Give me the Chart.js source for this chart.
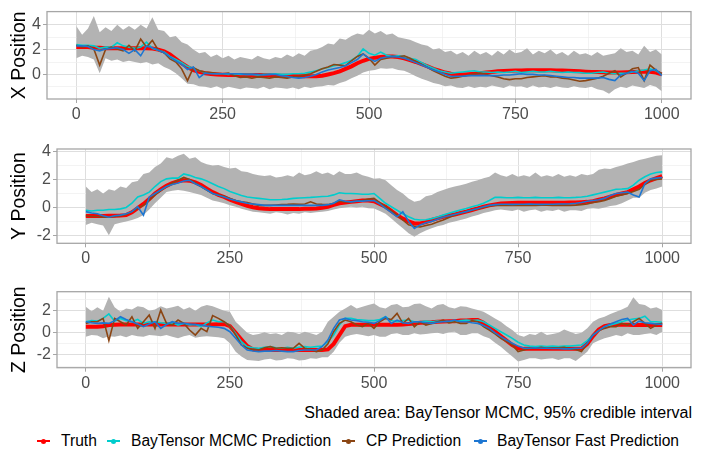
<!DOCTYPE html>
<html>
<head>
<meta charset="utf-8">
<script src="https://cdn.jsdelivr.net/npm/chart.js@4.4.1/dist/chart.umd.min.js"></script>
<style>
  body { margin: 0; background: #fff; width: 713px; height: 458px; position: relative; overflow: hidden;
         font-family: "Liberation Sans", Arial, sans-serif; }
  canvas { position: absolute; left: 0; }
  #caption { position: absolute; right: 21px; top: 404px; font-size: 16px; line-height: 18px; color: #000; }
  .key { position: absolute; top: 434px; width: 13px; height: 14px; }
  .key .ln { position: absolute; left: 0; top: 6px; width: 13px; height: 2px; }
  .key .dot { position: absolute; left: 4px; top: 4.5px; width: 5px; height: 5px; border-radius: 50%; }
  .lab { position: absolute; top: 432px; font-size: 15.6px; line-height: 18px; color: #000; white-space: nowrap; }
</style>
</head>
<body>
<canvas id="panelX" width="713" height="125" style="top:0px"></canvas>
<canvas id="panelY" width="713" height="145" style="top:125px"></canvas>
<canvas id="panelZ" width="713" height="125" style="top:270px"></canvas>

<div id="caption">Shaded area: BayTensor MCMC, 95% credible interval</div>
<div id="legend"></div>

<script>
// time index, one sample every 10 steps (0..1000)
const steps = Array.from({ length: 101 }, (_, i) => i * 10);
const xMajor = [0, 250, 500, 750, 1000];
const xMinor = [125, 375, 625, 875];

// ---- X position ----
const xTruth = [
  2.2, 2.2, 2.2, 2.15, 2.15, 2.1, 2.1, 2.1, 2.1, 2.1,
  2.1, 2.1, 2.1, 2.08, 2.0, 1.85, 1.6, 1.25, 0.9, 0.6,
  0.35, 0.2, 0.1, 0.03, 0.0, -0.03, -0.05, -0.05, -0.05, -0.05,
  -0.05, -0.05, -0.05, -0.07, -0.08, -0.1, -0.1, -0.12, -0.13, -0.15,
  -0.15, -0.15, -0.1, 0.0, 0.1, 0.25, 0.45, 0.65, 0.9, 1.1,
  1.25, 1.35, 1.4, 1.45, 1.45, 1.4, 1.3, 1.15, 1.0, 0.82,
  0.65, 0.45, 0.3, 0.15, 0.05, 0.0, 0.0, 0.02, 0.05, 0.1,
  0.15, 0.2, 0.25, 0.28, 0.3, 0.31, 0.32, 0.33, 0.33, 0.33,
  0.33, 0.33, 0.32, 0.31, 0.3, 0.28, 0.25, 0.22, 0.2, 0.19,
  0.18, 0.16, 0.15, 0.16, 0.18, 0.2, 0.22, 0.22, 0.22, 0.15,
  0.0
];
const xMcmc = [
  2.4, 2.35, 2.35, 2.3, 2.1, 2.2, 2.2, 2.55, 2.3, 2.2,
  2.1, 2.2, 2.6, 2.1, 1.95, 1.8, 1.45, 1.2, 0.95, 0.65,
  0.5, 0.3, 0.15, 0.1, 0.05, 0.05, 0.0, 0.05, 0.0, 0.0,
  0.0, -0.05, 0.0, 0.0, 0.05, 0.0, 0.0, 0.05, 0.05, 0.1,
  0.2, 0.3, 0.45, 0.55, 0.7, 0.8, 0.95, 1.15, 1.45, 2.05,
  1.7, 1.55, 1.8, 1.55, 1.45, 1.5, 1.45, 1.3, 1.2, 0.95,
  0.7, 0.5, 0.3, 0.2, 0.1, 0.15, 0.2, 0.25, 0.3, 0.2,
  0.2, 0.15, 0.2, 0.15, 0.2, 0.25, 0.15, 0.2, 0.25, 0.2,
  0.2, 0.25, 0.2, 0.15, 0.2, 0.15, 0.15, 0.1, 0.1, 0.15,
  0.2, 0.1, 0.05, 0.1, 0.1, 0.2, 0.3, 0.35, 0.45, 0.3,
  0.05
];
const xCp = [
  2.35, 2.2, 2.3, 2.05, 0.75, 2.0, 2.2, 2.05, 1.9, 2.35,
  1.9, 2.85, 2.2, 2.75, 1.95, 1.75, 1.25, 1.0, 0.45, -0.5,
  0.55, 0.3, 0.2, 0.15, 0.1, 0.05, 0.1, -0.1, -0.25, -0.2,
  -0.3, -0.2, -0.25, -0.3, -0.2, -0.25, -0.3, -0.2, -0.15, -0.05,
  0.05, 0.25, 0.45, 0.6, 0.8, 0.75, 0.7, 1.1, 1.45, 1.65,
  1.3, 0.75, 1.2, 1.3, 1.45, 1.4, 1.5, 1.3, 1.05, 0.8,
  0.57, 0.3, 0.07, -0.15, -0.3, -0.25, -0.15, -0.05, 0.05, 0.1,
  0.0, -0.1, -0.2, -0.35, -0.42, -0.35, -0.35, -0.25, -0.2, -0.15,
  -0.1, -0.2, -0.2, -0.3, -0.35, -0.45, -0.55, -0.5, -0.4, -0.3,
  -0.15, 0.1, 0.3, -0.2, 0.1, 0.45, 0.55, -0.5, 0.75, 0.35,
  0.05
];
const xFast = [
  2.3, 2.3, 2.25, 2.0, 1.9, 2.05, 2.1, 2.15, 2.0, 1.7,
  2.0, 1.5, 2.3, 2.15, 1.95, 1.75, 1.4, 1.1, 0.8, 0.4,
  0.6, -0.25, 0.1, 0.05, 0.05, 0.05, 0.05, 0.05, 0.05, 0.0,
  0.0, 0.0, -0.05, 0.0, 0.0, -0.1, -0.17, -0.25, -0.3, -0.25,
  -0.15, 0.0, 0.2, 0.35, 0.45, 0.55, 0.7, 0.95, 1.2, 1.65,
  1.3, 1.05, 1.3, 1.4, 1.45, 1.4, 1.3, 1.15, 0.95, 0.75,
  0.55, 0.35, 0.2, 0.0, -0.17, -0.15, -0.15, -0.1, -0.1, -0.08,
  -0.1, -0.1, -0.1, -0.05, -0.05, 0.0, 0.05, 0.0, 0.0, -0.05,
  -0.05, -0.1, -0.15, -0.2, -0.25, -0.25, -0.3, -0.3, -0.3, -0.3,
  -0.25, -0.4, -0.5, -0.05, 0.1, 0.25, 0.1, -0.5, 0.3, 0.4,
  -0.1
];
const xUpper = [
  3.9, 3.2, 3.7, 4.7, 3.4, 3.8, 3.5, 4.0, 3.6, 3.9,
  3.6, 4.0, 3.7, 4.6, 3.6, 3.5, 3.0, 3.1, 2.6, 2.4,
  2.0, 1.7, 1.8, 1.4, 1.6, 1.3, 1.5, 1.2, 1.4, 1.3,
  1.2, 1.5, 1.3, 1.2, 1.4, 1.3, 1.6, 1.4, 1.7, 1.5,
  1.9, 2.0, 2.2, 2.5, 2.4, 2.9, 2.8, 3.1, 3.3, 3.2,
  3.6, 3.3, 3.5, 3.2, 3.3, 3.0, 2.9, 2.8, 2.6, 2.4,
  2.3, 2.0, 2.1, 1.8, 1.9, 1.6, 1.8, 1.5, 1.9, 1.6,
  1.8, 1.5, 1.9, 1.6, 2.0, 1.7, 1.8, 2.1, 1.6, 1.9,
  1.7, 2.0, 1.6, 1.8, 1.5, 1.9, 1.6, 1.7, 1.5, 1.8,
  1.5, 1.6, 1.7, 2.1, 1.8, 1.9, 1.6, 2.3, 1.8, 2.0,
  1.6
];
const xLower = [
  1.3, 1.5, 1.4, 1.2, 0.1, 1.3, 1.1, 1.2, 1.0, 1.1,
  1.0, 0.9, 1.0, 0.8, 0.9, 0.6, 0.4, 0.1, -0.3, -0.75,
  -0.8, -0.95, -1.0, -1.1, -0.95, -1.15, -1.0, -1.1, -1.2, -1.05,
  -1.1, -1.15, -1.0, -1.2, -1.05, -1.1, -1.15, -1.05, -1.2, -1.0,
  -1.1, -1.0, -0.95, -0.85, -0.9, -0.7, -0.55, -0.3, -0.1, 0.15,
  0.3, 0.35, 0.5, 0.45, 0.5, 0.35, 0.3, 0.1, -0.15, -0.35,
  -0.5, -0.7, -0.8, -0.95, -0.9, -1.05, -1.1, -0.95, -1.1, -1.0,
  -1.05, -0.9, -1.0, -1.1, -0.9, -1.0, -0.95, -1.1, -0.9, -1.05,
  -1.0, -1.1, -0.95, -1.05, -1.1, -0.95, -1.05, -1.1, -1.0, -1.2,
  -1.3, -1.55, -1.2, -1.0, -1.1, -0.9, -1.0, -1.1, -0.85, -1.0,
  -1.35
];

// ---- Y position ----
const yTruth = [
  -0.62, -0.62, -0.62, -0.62, -0.6, -0.6, -0.58, -0.55, -0.35, -0.05,
  0.25, 0.6, 1.0, 1.3, 1.55, 1.75, 1.88, 1.95, 1.92, 1.8,
  1.6, 1.35, 1.1, 0.9, 0.75, 0.55, 0.4, 0.25, 0.12, 0.02,
  -0.05, -0.1, -0.12, -0.12, -0.12, -0.12, -0.12, -0.12, -0.1, -0.1,
  -0.08, -0.02, 0.05, 0.18, 0.3, 0.35, 0.4, 0.45, 0.5, 0.5,
  0.45, 0.25, 0.05, -0.25, -0.55, -0.8, -1.0, -1.15, -1.15, -1.05,
  -0.9, -0.78, -0.67, -0.58, -0.5, -0.4, -0.3, -0.18, -0.07, 0.05,
  0.15, 0.22, 0.28, 0.3, 0.32, 0.33, 0.33, 0.33, 0.33, 0.33,
  0.33, 0.33, 0.33, 0.34, 0.35, 0.36, 0.38, 0.4, 0.45, 0.55,
  0.65, 0.78, 0.9, 1.0, 1.1, 1.3, 1.5, 1.75, 1.95, 2.1,
  2.25
];
const yMcmc = [
  -0.2, -0.25, -0.2, -0.2, -0.15, -0.15, -0.1, 0.0, 0.3, 0.75,
  0.9, 1.1, 1.5, 1.85, 2.05, 2.1, 2.1, 2.4, 2.3, 2.15,
  2.05, 1.9, 1.7, 1.5, 1.35, 1.15, 1.0, 0.85, 0.75, 0.7,
  0.65, 0.6, 0.55, 0.55, 0.57, 0.6, 0.65, 0.68, 0.7, 0.72,
  0.75, 0.78, 0.8, 0.9, 1.05, 1.0, 1.0, 0.98, 0.95, 0.95,
  1.0, 0.65, 0.3, 0.05, -0.2, -0.45, -0.67, -0.85, -0.9, -0.88,
  -0.8, -0.68, -0.55, -0.42, -0.3, -0.18, -0.07, 0.05, 0.15, 0.3,
  0.5, 0.72, 0.72, 0.7, 0.7, 0.72, 0.7, 0.7, 0.72, 0.7,
  0.7, 0.7, 0.72, 0.7, 0.7, 0.72, 0.75, 0.8, 0.9, 1.0,
  1.1, 1.2, 1.3, 1.32, 1.35, 1.6, 1.95, 2.2, 2.4, 2.5,
  2.55
];
const yCp = [
  -0.6, -0.65, -0.65, -0.7, -0.7, -0.65, -0.6, -0.5, -0.3, -0.05,
  0.15, 0.5, 0.9, 1.2, 1.5, 1.75, 1.95, 2.15, 2.0, 1.75,
  1.5, 1.25, 1.0, 0.9, 0.8, 0.65, 0.5, 0.4, 0.35, 0.25,
  0.15, 0.15, 0.15, 0.18, 0.2, 0.22, 0.25, 0.22, 0.25, 0.4,
  0.25, 0.22, 0.2, 0.3, 0.45, 0.4, 0.4, 0.45, 0.5, 0.6,
  0.65, 0.35, 0.05, -0.25, -0.55, -0.9, -1.25, -1.35, -1.4, -1.3,
  -1.2, -1.05, -0.9, -0.72, -0.55, -0.42, -0.3, -0.2, -0.1, 0.0,
  0.1, 0.15, 0.15, 0.15, 0.15, 0.15, 0.15, 0.15, 0.15, 0.17,
  0.17, 0.15, 0.15, 0.17, 0.15, 0.17, 0.2, 0.25, 0.35, 0.42,
  0.5, 0.65, 0.8, 0.9, 1.0, 1.15, 1.3, 1.65, 1.95, 2.0,
  2.05
];
const yFast = [
  -0.3, -0.4, -0.45, -0.6, -0.7, -0.6, -0.55, -0.45, -0.3, 0.05,
  -0.55, 0.75, 1.0, 1.25, 1.5, 1.65, 1.75, 1.9, 1.95, 1.7,
  1.5, 1.25, 1.0, 0.88, 0.75, 0.6, 0.5, 0.4, 0.3, 0.25,
  0.2, 0.15, 0.15, 0.15, 0.15, 0.15, 0.15, 0.15, 0.15, 0.15,
  0.15, 0.15, 0.2, 0.3, 0.55, 0.45, 0.4, 0.45, 0.45, 0.48,
  0.5, 0.25, -0.07, -0.35, -0.67, -0.3, -1.0, -1.5, -1.25, -1.1,
  -1.0, -0.85, -0.7, -0.6, -0.5, -0.4, -0.3, -0.18, -0.07, 0.05,
  0.15, 0.2, 0.23, 0.23, 0.22, 0.23, 0.23, 0.25, 0.23, 0.22,
  0.23, 0.23, 0.25, 0.25, 0.27, 0.3, 0.35, 0.45, 0.5, 0.55,
  0.65, 0.85, 1.0, 1.05, 1.1, 0.9, 0.75, 1.7, 2.05, 2.1,
  2.15
];
const yUpper = [
  1.5, 1.1, 1.3, 1.0, 1.3, 1.2, 1.5, 1.4, 1.8, 1.9,
  2.4, 2.5, 2.9, 3.15, 3.6, 3.5, 3.7, 3.85, 3.5, 3.6,
  3.25, 3.1, 3.0, 3.05, 2.9, 2.8, 2.85, 2.6, 2.55, 2.4,
  2.3, 2.25, 2.3, 2.15, 2.2, 2.3, 2.2, 2.5, 2.3, 2.4,
  2.6, 2.4, 2.5, 2.3, 2.6, 2.4, 2.4, 2.5, 2.3, 2.2,
  2.05, 2.1, 1.95, 1.6, 1.25, 1.0, 0.65, 0.4, 0.5, 0.8,
  0.9, 1.1, 1.25, 1.4, 1.5, 1.6, 1.7, 1.85, 1.95, 2.1,
  2.2, 2.5, 2.3, 2.2, 2.4, 2.2, 2.3, 2.2, 2.5, 2.2,
  2.3, 2.2, 2.4, 2.2, 2.3, 2.2, 2.4, 2.3, 2.4, 2.7,
  2.8, 2.75, 2.9, 3.0, 3.15, 3.25, 3.4, 3.5, 3.6, 3.7,
  3.75
];
const yLower = [
  -1.25, -1.1, -1.2, -1.3, -2.0, -1.2, -1.1, -1.0, -0.9, -0.75,
  -0.55, -0.15, 0.3, 0.7, 1.1, 1.2, 1.25, 1.2, 1.1, 1.0,
  0.9, 0.7, 0.5, 0.4, 0.3, 0.15, 0.05, -0.1, -0.2, -0.3,
  -0.35, -0.4, -0.45, -0.35, -0.4, -0.5, -0.4, -0.45, -0.35, -0.4,
  -0.35, -0.3, -0.25, -0.15, -0.05, 0.0, 0.05, 0.0, 0.05, -0.05,
  -0.07, -0.25, -0.45, -0.8, -1.15, -1.5, -1.85, -2.1, -1.85, -1.65,
  -1.5, -1.35, -1.25, -1.1, -1.0, -0.9, -0.8, -0.65, -0.55, -0.4,
  -0.3, -0.2, -0.15, -0.2, -0.25, -0.15, -0.3, -0.2, -0.15, -0.3,
  -0.2, -0.25, -0.15, -0.3, -0.2, -0.2, -0.25, -0.1, -0.05, -0.1,
  0.0, 0.1, 0.15, 0.3, 0.5, 0.7, 0.7, 1.05, 1.25, 1.35,
  1.5
];

// ---- Z position ----
const zTruth = [
  0.55, 0.55, 0.55, 0.6, 0.7, 0.72, 0.75, 0.75, 0.75, 0.75,
  0.75, 0.75, 0.75, 0.75, 0.75, 0.75, 0.75, 0.75, 0.75, 0.75,
  0.75, 0.75, 0.75, 0.78, 0.8, 0.6, 0.0, -0.6, -1.2, -1.5,
  -1.55, -1.55, -1.55, -1.55, -1.55, -1.55, -1.55, -1.55, -1.55, -1.55,
  -1.55, -1.55, -1.5, -1.0, -0.2, 0.6, 0.72, 0.72, 0.72, 0.72,
  0.72, 0.72, 0.72, 0.72, 0.72, 0.75, 0.8, 0.85, 0.9, 0.93,
  0.95, 1.0, 1.02, 1.05, 1.05, 1.1, 1.12, 1.15, 1.15, 0.9,
  0.5, 0.1, -0.3, -0.7, -1.1, -1.4, -1.45, -1.45, -1.45, -1.45,
  -1.45, -1.45, -1.45, -1.45, -1.45, -1.45, -1.45, -1.0, -0.3, 0.3,
  0.6, 0.7, 0.72, 0.72, 0.72, 0.7, 0.7, 0.7, 0.7, 0.7,
  0.7
];
const zMcmc = [
  1.0, 1.1, 1.05, 1.3, 1.7, 1.05, 1.3, 1.1, 1.0, 1.2,
  0.85, 1.0, 1.0, 0.9, 0.85, 0.9, 0.7, 0.85, 0.7, 0.75,
  0.55, 0.9, 1.15, 1.0, 1.0, 0.6, -0.05, -0.8, -1.25, -1.35,
  -1.4, -1.3, -1.25, -1.35, -1.4, -1.3, -1.4, -1.3, -1.25, -1.3,
  -1.25, -1.2, -0.8, -0.2, 0.7, 1.3, 1.3, 1.2, 1.15, 1.1,
  1.1, 1.2, 1.45, 1.1, 1.0, 1.1, 1.15, 1.0, 1.0, 1.05,
  1.0, 1.05, 1.05, 1.0, 1.0, 1.1, 1.15, 1.1, 1.15, 1.0,
  0.7, 0.4, 0.1, -0.2, -0.5, -0.85, -1.1, -1.2, -1.25, -1.2,
  -1.25, -1.2, -1.25, -1.2, -1.2, -1.15, -1.1, -0.7, -0.2, 0.2,
  0.55, 0.7, 0.85, 1.0, 1.15, 1.25, 1.3, 1.5, 1.0, 1.0,
  0.95
];
const zCp = [
  0.85, 1.0, 1.0, 1.3, -0.7, 1.3, 1.0, 0.7, 1.45, 0.4,
  1.0, 1.6, 0.4, 2.05, 0.85, 0.7, 1.15, 0.85, 0.25, -0.2,
  0.4, 0.1, 1.55, 1.3, 1.0, 0.6, -0.2, -1.1, -1.4, -1.5,
  -1.55, -1.35, -1.25, -1.4, -1.35, -1.4, -1.4, -0.95, -1.4, -1.5,
  -1.7, -1.55, -1.0, 0.1, 0.85, 1.15, 1.0, 0.7, 0.55, 0.85,
  0.4, 1.0, 1.3, 1.2, 1.75, 0.85, 1.3, 0.55, 1.0, 0.7,
  0.85, 1.0, 1.15, 0.9, 1.0, 0.85, 0.85, 1.1, 1.0, 0.55,
  0.25, -0.1, -0.5, -0.8, -1.1, -1.7, -1.55, -1.4, -1.4, -1.3,
  -1.4, -1.35, -1.35, -1.3, -1.45, -1.5, -1.7, -0.95, -0.2, 0.2,
  0.4, 0.55, 0.55, 0.85, 0.7, 1.0, 1.3, 0.85, 0.4, 0.7,
  0.85
];
const zFast = [
  1.0, 0.9, 0.85, 0.9, 0.85, 1.1, 1.45, 1.2, 1.0, 0.8,
  0.55, 0.8, 1.0, 0.4, 0.75, 1.0, 0.85, 0.85, 0.8, 0.75,
  0.7, 0.6, 0.55, 0.5, 0.4, 0.1, -0.5, -1.1, -1.55, -1.65,
  -1.7, -1.65, -1.65, -1.6, -1.65, -1.7, -1.7, -1.6, -1.55, -1.55,
  -1.55, -1.25, -0.65, 0.4, 1.15, 1.3, 1.15, 1.1, 1.0, 0.95,
  0.85, 1.1, 1.45, 0.85, 1.15, 0.9, 0.85, 1.0, 1.0, 0.9,
  0.85, 0.95, 1.0, 1.05, 1.15, 1.0, 1.0, 0.9, 0.85, 0.65,
  0.4, 0.0, -0.35, -0.65, -0.95, -1.2, -1.4, -1.4, -1.35, -1.4,
  -1.4, -1.42, -1.42, -1.45, -1.45, -1.4, -1.4, -0.95, -0.2, 0.2,
  0.55, 0.8, 1.0, 1.2, 1.3, 0.7, 1.05, 0.9, 0.85, 0.8,
  0.75
];
const zUpper = [
  2.35, 1.95, 2.3, 2.0, 3.25, 2.3, 1.9, 2.2, 2.1, 2.4,
  2.3, 2.0, 2.1, 2.4, 2.2, 2.3, 2.45, 2.1, 2.3, 2.0,
  2.35, 2.5, 2.4, 2.2, 2.0, 1.9, 1.0, 0.5, 0.0, -0.2,
  -0.1, 0.05, -0.1, -0.05, -0.2, 0.1, 0.05, -0.1, 0.1, -0.05,
  -0.2, 0.1, 1.0, 1.45, 1.9, 2.2, 2.5, 2.2, 2.35, 2.5,
  2.65, 2.3, 2.2, 2.5, 2.6, 2.3, 2.35, 2.6, 2.65, 2.4,
  2.2, 2.5, 2.6, 2.3, 2.2, 2.4, 2.35, 2.2, 2.05, 1.9,
  1.6, 1.3, 1.0, 0.6, 0.25, -0.2, -0.35, -0.1, -0.2, 0.1,
  -0.2, -0.1, 0.0, 0.3, 0.1, -0.1, 0.0, 0.4, 1.0, 1.3,
  1.45, 1.7, 1.9, 2.1, 2.35, 3.2, 2.6, 2.5, 2.2, 2.3,
  2.05
];
const zLower = [
  -0.35, -0.2, -0.25, -0.5, -0.3, -0.35, -0.25, -0.4, -0.2, -0.3,
  -0.35, -0.2, -0.25, -0.3, -0.2, -0.35, -0.5, -0.3, -0.2, -0.45,
  -0.35, -0.3, -0.35, -0.4, -0.5, -0.95, -1.7, -2.15, -2.45, -2.5,
  -2.55, -2.4, -2.35, -2.5, -2.45, -2.3, -2.35, -2.5, -2.45, -2.3,
  -2.35, -2.2, -2.2, -1.7, -0.9, -0.35, -0.2, -0.1, -0.2, -0.3,
  -0.2, -0.35, -0.35, -0.1, -0.05, -0.2, -0.2, -0.05, -0.15, -0.1,
  -0.05, 0.0, -0.1, 0.05, 0.1, -0.2, -0.2, -0.05, -0.05, -0.3,
  -0.5, -0.9, -1.25, -1.7, -2.15, -2.6, -2.45, -2.3, -2.3, -2.4,
  -2.35, -2.3, -2.45, -2.3, -2.3, -2.55, -2.15, -1.7, -0.95, -0.7,
  -0.5, -0.35, -0.2, -0.3, -0.05, -0.2, -0.2, -0.1, -0.05, -0.2,
  0.1
];

const FONT = '"Liberation Sans", Arial, sans-serif';
const seriesNames = ['Truth', 'BayTensor MCMC Prediction', 'CP Prediction', 'BayTensor Fast Prediction'];
const seriesColors = ['#FF0000', '#00CDCD', '#8B4513', '#1C76D2'];

// grey frame around each panel
const framePlugin = {
  id: 'frame',
  afterDraw(chart) {
    const a = chart.chartArea, c = chart.ctx;
    c.save();
    c.strokeStyle = '#A6A6A6';
    c.lineWidth = 1.3;
    c.strokeRect(a.left, a.top, a.right - a.left, a.bottom - a.top);
    c.restore();
  }
};

function makePanel(id, box, title, yMin, yMax, yMajor, yMinor, s) {
  const pts = vals => vals.map((v, i) => ({ x: steps[i], y: v }));
  const line = (vals, color, w) => ({
    data: pts(vals), borderColor: color, borderWidth: w,
    pointRadius: 0, fill: false, tension: 0
  });
  const isMajor = (list, ctx) => ctx.tick && list.includes(ctx.tick.value);
  const gridOpts = list => ({
    color: ctx => isMajor(list, ctx) ? '#DEDEDE' : '#EEEEEE',
    lineWidth: ctx => isMajor(list, ctx) ? 1 : 0.7,
    tickColor: ctx => isMajor(list, ctx) ? '#A6A6A6' : 'rgba(0,0,0,0)',
    tickLength: 4
  });
  const tickFont = { family: FONT, size: 16 };

  new Chart(document.getElementById(id), {
    type: 'line',
    data: {
      datasets: [
        line(s.fast, seriesColors[3], 1.6),
        line(s.cp, seriesColors[2], 1.6),
        line(s.mcmc, seriesColors[1], 1.6),
        line(s.truth, seriesColors[0], 4),
        { data: pts(s.upper), borderColor: 'rgba(0,0,0,0)', borderWidth: 0,
          backgroundColor: '#B3B3B3', pointRadius: 0, fill: '+1', tension: 0 },
        { data: pts(s.lower), borderColor: 'rgba(0,0,0,0)', borderWidth: 0,
          pointRadius: 0, fill: false, tension: 0 }
      ]
    },
    options: {
      responsive: false,
      animation: false,
      layout: { padding: { top: box.top, right: 22, bottom: 0, left: 0 } },
      plugins: { legend: { display: false }, tooltip: { enabled: false } },
      scales: {
        x: {
          type: 'linear', min: -50, max: 1050,
          afterBuildTicks: sc => { sc.ticks = [...xMajor, ...xMinor].sort((a, b) => a - b).map(v => ({ value: v })); },
          afterFit: sc => { sc.height = box.xh; },
          ticks: { autoSkip: false, maxRotation: 0, padding: 2, color: '#4D4D4D', font: tickFont,
                   callback: v => xMajor.includes(v) ? String(v) : '' },
          grid: gridOpts(xMajor),
          border: { display: false }
        },
        y: {
          type: 'linear', min: yMin, max: yMax,
          afterBuildTicks: sc => { sc.ticks = [...yMajor, ...yMinor].sort((a, b) => a - b).map(v => ({ value: v })); },
          afterFit: sc => { sc.width = box.left; },
          ticks: { autoSkip: false, padding: 2, color: '#4D4D4D', font: tickFont,
                   callback: v => yMajor.includes(v) ? String(v) : '' },
          grid: gridOpts(yMajor),
          border: { display: false },
          title: { display: true, text: title, color: '#000', font: { family: FONT, size: 19.5 },
                   padding: { top: 8, bottom: 0 } }
        }
      }
    },
    plugins: [framePlugin]
  });
}

makePanel('panelX', { top: 4, left: 47, xh: 26 }, 'X Position', -1.98, 5.06, [0, 2, 4], [-1, 1, 3],
  { truth: xTruth, mcmc: xMcmc, cp: xCp, fast: xFast, upper: xUpper, lower: xLower });
makePanel('panelY', { top: 24, left: 57, xh: 26.7 }, 'Y Position', -2.57, 4.19, [-2, 0, 2, 4], [-1, 1, 3],
  { truth: yTruth, mcmc: yMcmc, cp: yCp, fast: yFast, upper: yUpper, lower: yLower });
makePanel('panelZ', { top: 21.7, left: 57, xh: 27.3 }, 'Z Position', -3.15, 3.71, [-2, 0, 2], [-3, -1, 1, 3],
  { truth: zTruth, mcmc: zMcmc, cp: zCp, fast: zFast, upper: zUpper, lower: zLower });

// legend row under the panels
const legend = document.getElementById('legend');
const keyLeft = [37, 107, 342, 474];
const labLeft = [61, 131, 366, 497];
seriesNames.forEach((name, i) => {
  const key = document.createElement('div');
  key.className = 'key';
  key.style.left = keyLeft[i] + 'px';
  key.innerHTML = '<div class="ln" style="background:' + seriesColors[i] + '"></div>' +
                  '<div class="dot" style="background:' + seriesColors[i] + '"></div>';
  legend.appendChild(key);
  const lab = document.createElement('div');
  lab.className = 'lab';
  lab.style.left = labLeft[i] + 'px';
  lab.textContent = name;
  legend.appendChild(lab);
});
</script>
</body>
</html>
